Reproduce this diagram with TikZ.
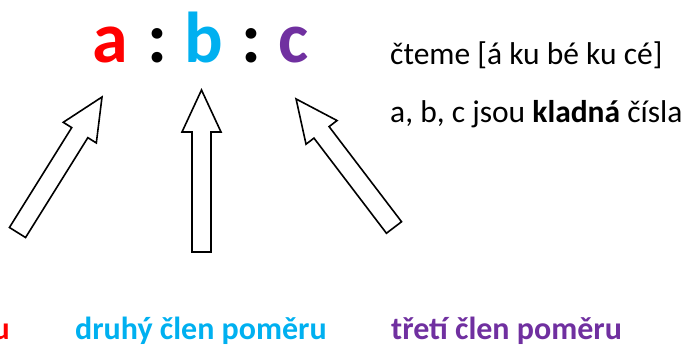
\documentclass[tikz,border=0pt]{standalone}
\usepackage{fontspec}
\setmainfont{Carlito}
\definecolor{termred}{HTML}{FF0000}
\definecolor{termblue}{HTML}{00B0F0}
\definecolor{termpurple}{HTML}{7030A0}
\tikzset{
  bigterm/.style={inner sep=0pt, anchor=base, font=\fontsize{72}{80}\selectfont\bfseries},
  note/.style={inner sep=0pt, anchor=base west, font=\fontsize{31.5}{38}\selectfont},
  caption/.style={inner sep=0pt, anchor=base west, font=\fontsize{32}{38}\selectfont\bfseries},
  blockarrow/.style={draw=black, line width=1.6pt, fill=white, line join=miter},
}
% hollow block arrow of length #1 pointing along the local x axis
\newcommand{\blockarrowpath}[1]{%
  (0,-9.5) -- (#1-42,-9.5) -- (#1-42,-19.5) -- (#1,0) -- (#1-42,19.5) -- (#1-42,9.5) -- (0,9.5) -- cycle}
\begin{document}
\begin{tikzpicture}[x=1pt, y=-1pt]
  \useasboundingbox (0,0) rectangle (688,347);
  \clip (0,0) rectangle (688,347);

  % the ratio a : b : c
  \node[bigterm, text=termred]    (a)  at (110,63) {a};
  \node[bigterm]                  (c1) at (157,63) {:};
  \node[bigterm, text=termblue]   (b)  at (204,63) {b};
  \node[bigterm]                  (c2) at (251,63) {:};
  \node[bigterm, text=termpurple] (c)  at (294,63) {c};

  % notes on the right
  \node[note] (read) at (390,64.5)  {čteme [á ku bé ku cé]};
  \node[note] (pos)  at (390,122.5) {a, b, c jsou \textbf{kladná} čísla};

  % captions of the three terms
  \node[caption, text=termred, anchor=base east] (first) at (10,339.5) {první člen poměru};
  \node[caption, text=termblue]   (second) at (75,339.5)  {druhý člen poměru};
  \node[caption, text=termpurple] (third)  at (391,339.5) {třetí člen poměru};

  % block arrows pointing up at the terms
  \draw[blockarrow, shift={(17.5,232.5)}, rotate=58.05] \blockarrowpath{159.7};
  \draw[blockarrow, shift={(201.5,252)},  rotate=90]    \blockarrowpath{162};
  \draw[blockarrow, shift={(394,227.5)},  rotate=127.3] \blockarrowpath{161.6};
\end{tikzpicture}
\end{document}
